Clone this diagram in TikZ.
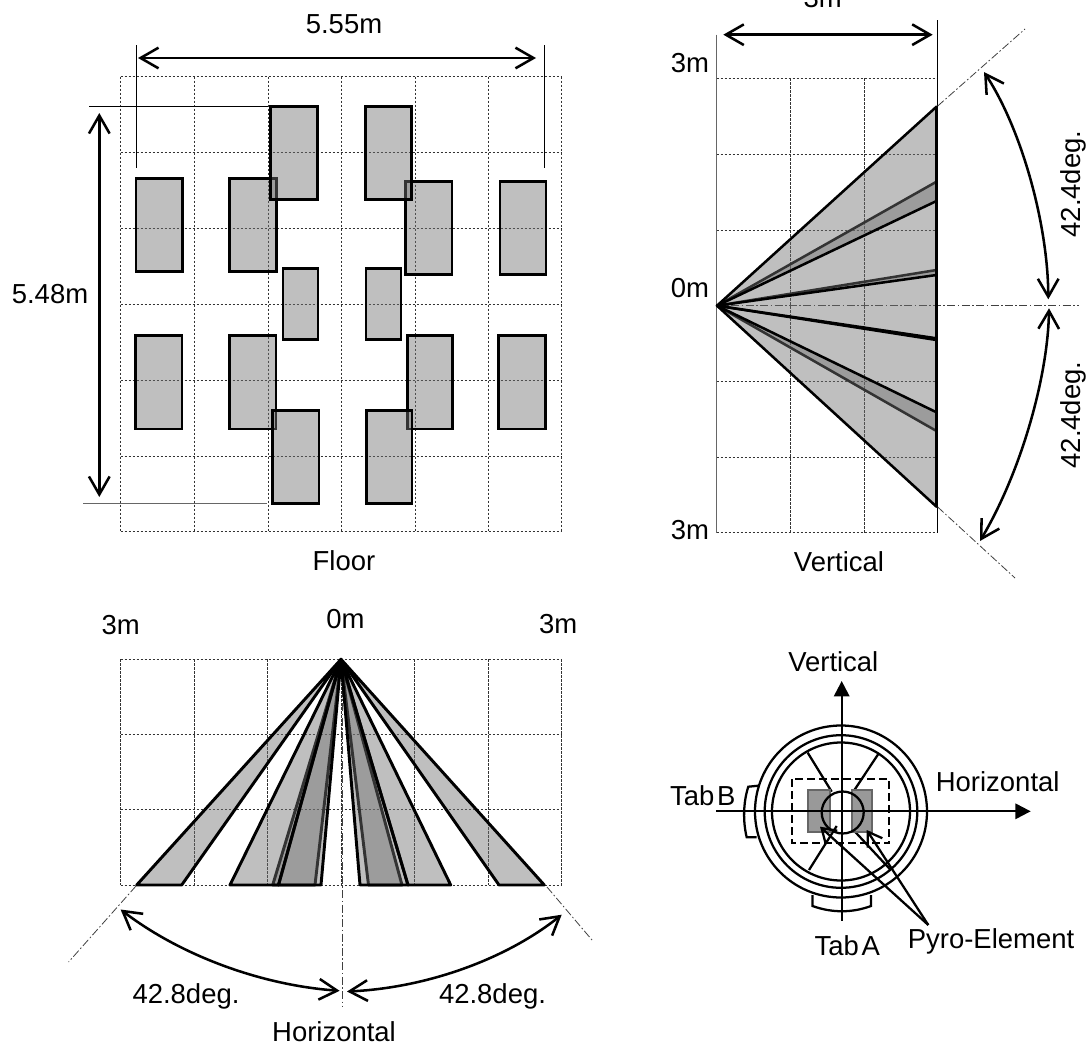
\documentclass[tikz,border=0pt]{standalone}
\usepackage{fontspec}
\setmainfont{Liberation Sans}
\usetikzlibrary{arrows.meta}
\definecolor{fanfill}{gray}{0.447}
\definecolor{pyrofill}{gray}{0.6}
\tikzset{
  lbl/.style={inner sep=0pt,font=\fontsize{20.6}{24}\selectfont},
  gridline/.style={draw=black!80,line width=.6pt,dash pattern=on 1.8pt off 1.2pt},
  zone/.style={draw=black,line width=1.9pt,fill=fanfill,fill opacity=.453,line join=round},
  hzone/.style={zone,line width=2.2pt},
  axisline/.style={draw=black!75,line width=.6pt,dash pattern=on 6pt off 1.8pt on 1.2pt off 1.8pt},
  thinline/.style={draw=black,line width=.75pt},
  dim/.style={draw=black,line width=1.9pt,{Straight Barb[length=13.5pt,width=15.5pt]}-{Straight Barb[length=13.5pt,width=15.5pt]}},
  pointer/.style={draw=black,line width=1.7pt,-{Straight Barb[length=10pt,width=13pt]}},
  solidarrow/.style={draw=black,line width=1.7pt,-{Triangle[length=11.5pt,width=11.5pt]}},
  sensor/.style={draw=black,line width=1.7pt},
  pyro/.style={draw=black!60,line width=1.7pt,fill=pyrofill}
}
\begin{document}
\begin{tikzpicture}[x=.75pt,y=-.75pt]
\useasboundingbox (0,0) rectangle (1089,1046);
\clip (0,0) rectangle (1089,1046);
% ---- Floor ----
\foreach \x in {120.7,194.3,268,341.7,415,488.3,561.7} \draw[gridline] (\x,76.7) -- (\x,531.7);
\foreach \y in {76.7,152.7,228.3,304.3,380,456.3,531.7} \draw[gridline] (120.7,\y) -- (561.7,\y);
\draw[thinline] (89,106.7) -- (268,106.7);
\draw[thinline,draw=black!60] (83,503.7) -- (267,503.7);
\draw[thinline] (136.7,45) -- (136.7,167.7);
\draw[thinline] (544.7,45) -- (544.7,167.7);
\coordinate (wl) at (138,58); \coordinate (wr) at (536,58);
\coordinate (ht) at (99.3,113); \coordinate (hb) at (99.3,497);
\draw[dim] (wl) -- (wr);
\draw[dim] (ht) -- (hb);
\foreach \a/\b/\c/\d in {
 229.3/178.3/276.7/271.7, 405.7/181.3/452/274.7,
 270.7/106.7/317.3/199.3, 365.3/106.7/411.3/199.3,
 136/178.3/182.3/271.7, 500/181.3/546/274.7,
 283/268.3/318/339.3, 366/268.3/401/339.3,
 135.3/335.7/182/429, 498.7/335.7/545.3/429,
 229.3/335.7/276/429, 407.3/335.7/452.3/429,
 272.7/410.3/319/503.7, 366.3/410.3/412/503.7}
  \draw[zone,line join=miter] (\a,\b) rectangle (\c,\d);
\node[lbl] (w) at (344,24) {5.55m};
\node[lbl] (h) at (50,294) {5.48m};
\node[lbl] (floor) at (344,561) {Floor};
% ---- Vertical ----
\foreach \x in {790.3,864} \draw[gridline] (\x,78.3) -- (\x,532.7);
\foreach \y in {78.3,154.3,230,381.3,457,532.7} \draw[gridline] (716.7,\y) -- (937.7,\y);
\draw[thinline,draw=black!60] (716.7,34.7) -- (716.7,532.7);
\draw[thinline] (937.7,20) -- (937.7,532.7);
\draw[axisline] (717,305.7) -- (1079,305.7);
\draw[axisline] (937.7,106) -- (1025,29);
\draw[axisline] (937.7,507) -- (1015,578);
\coordinate (apv) at (717,305.7);
\draw[zone] (apv) -- (936.5,340) -- (936.5,431) -- cycle;
\draw[zone] (apv) -- (936.5,412.3) -- (936.5,506.7) -- cycle;
\draw[zone] (apv) -- (936.5,270) -- (936.5,338.3) -- cycle;
\draw[zone] (apv) -- (936.5,181.7) -- (936.5,275) -- cycle;
\draw[zone] (apv) -- (936.5,106.7) -- (936.5,201) -- cycle;
\coordinate (vl) at (723.3,34.7); \coordinate (vr) at (932.7,34.7);
\draw[dim] (vl) -- (vr);
\coordinate (a1) at (984,72); \coordinate (a2) at (1048.3,299.3);
\coordinate (a3) at (1049,308.3); \coordinate (a4) at (980,541);
\draw[dim] (a1) .. controls (1022,130) and (1048,225) .. (a2);
\draw[dim] (a3) .. controls (1048,375) and (1022,470) .. (a4);
\node[lbl] (d3) at (822.7,-2) {3m};
\node[lbl] (v3t) at (690,63) {3m};
\node[lbl] (v0) at (690,288) {0m};
\node[lbl] (v3b) at (690,530) {3m};
\node[lbl,rotate=90] (u42) at (1073,184) {42.4deg.};
\node[lbl,rotate=90] (l42) at (1073,415) {42.4deg.};
\node[lbl] (vert) at (839,562) {Vertical};
% ---- Horizontal ----
\foreach \x in {120.7,194,267.7,414.7,488.3,561.7} \draw[gridline] (\x,659.3) -- (\x,885);
\draw[gridline] (341,659.3) -- (341,885);
\foreach \y in {659.3,734.7,809.7,885} \draw[gridline] (120.7,\y) -- (561.7,\y);
\draw[axisline] (342,660) -- (342,1007);
\draw[axisline] (136,886) -- (68.6,962);
\draw[axisline] (547,887) -- (592,940);
\coordinate (aph) at (341,659.3);
\draw[hzone] (aph) -- (136.7,885) -- (181.7,885) -- cycle;
\draw[hzone] (aph) -- (272.7,885) -- (315,885) -- cycle;
\draw[hzone] (aph) -- (230,885) -- (278.5,885) -- cycle;
\draw[hzone] (aph) -- (278.5,885) -- (321,885) -- cycle;
\draw[hzone] (aph) -- (368.5,885) -- (402,885) -- cycle;
\draw[hzone] (aph) -- (360,885) -- (408,885) -- cycle;
\draw[hzone] (aph) -- (408,885) -- (450.7,885) -- cycle;
\draw[hzone] (aph) -- (499,885) -- (544.3,885) -- cycle;
\coordinate (b1) at (120.6,909.5); \coordinate (b2) at (339.6,990.8);
\coordinate (b3) at (347,991.5); \coordinate (b4) at (561.7,914.7);
\draw[dim] (b1) .. controls (180,955) and (260,985) .. (b2);
\draw[dim] (b3) .. controls (425,988) and (505,960) .. (b4);
\node[lbl] (h3l) at (120.7,625) {3m};
\node[lbl] (h0) at (345.5,619) {0m};
\node[lbl] (h3r) at (558.3,624) {3m};
\node[lbl] (ld) at (186,996.7) {42.8deg.};
\node[lbl] (rd) at (492.5,996.7) {42.8deg.};
\node[lbl] (horiz) at (334,1032) {Horizontal};
% ---- Sensor ----
\coordinate (c) at (841,811.5);
\draw[sensor] (c) circle (86);
\draw[sensor] (c) circle (76.3);
\draw[sensor] (c) circle (69);
\draw[sensor] (807.7,752.7) -- (831.7,791.7);
\draw[sensor] (878.3,754) -- (853.3,791.7);
\draw[sensor] (809,870) -- (836.7,826);
\draw[sensor] (855,831.7) -- (890.7,870);
\draw[sensor,dash pattern=on 6pt off 3pt] (792,779.3) rectangle (889.3,843.3);
\draw[pyro] (808.3,790) rectangle (830,832.3);
\draw[pyro] (851.7,790) rectangle (872.3,832);
\draw[sensor] (842.7,812.5) circle (21);
\draw[sensor] (758.3,785.7) -- (748.3,786.7) .. controls (743,803) and (743,822) .. (746.7,837.3) -- (756.7,837.3);
\draw[sensor] (812.5,895) -- (812.5,906) .. controls (832,913) and (852,913) .. (871,906) -- (871,895);
\coordinate (vb) at (841.7,920.7); \coordinate (vt) at (841.7,681);
\coordinate (hl) at (716,811.3); \coordinate (hr) at (1030.7,811.3);
\draw[solidarrow] (vb) -- (vt);
\draw[solidarrow] (hl) -- (hr);
\coordinate (py) at (928.3,925);
\coordinate (pl) at (820,826.7); \coordinate (pr) at (866.7,830);
\draw[pointer] (py) -- (pl);
\draw[pointer] (py) -- (pr);
\node[lbl] (sv) at (833.3,662) {Vertical};
\node[lbl] (sh) at (997.7,781.7) {Horizontal};
\node[lbl] (tb) at (702.7,795.7) {Tab\hspace{.1em}B};
\node[lbl] (ta) at (847.3,945.7) {Tab\hspace{.1em}A};
\node[lbl] (pe) at (991,941.7) {Pyro-Element};
\end{tikzpicture}
\end{document}
